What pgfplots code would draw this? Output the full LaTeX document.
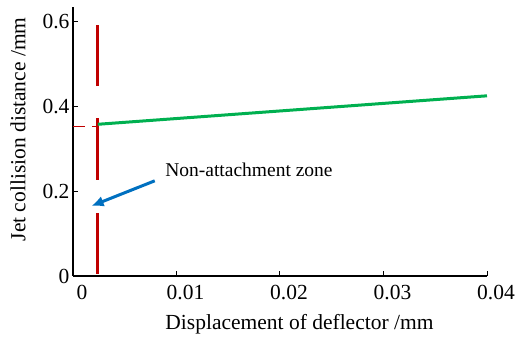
\documentclass[border=0pt]{standalone}
\usepackage{pgfplots}
\pgfplotsset{compat=1.18}
\usepackage{fontspec}
\setmainfont{Liberation Serif}
\usetikzlibrary{arrows.meta}
\definecolor{cred}{RGB}{192,0,0}
\definecolor{cgreen}{RGB}{0,176,80}
\definecolor{cblue}{RGB}{0,112,192}
\begin{document}
\begin{tikzpicture}
\begin{axis}[
  scale only axis,
  width=414pt, height=269pt,
  xmin=0, xmax=0.04, ymin=0, ymax=0.633,
  axis x line*=bottom, axis y line*=left,
  axis line style={line width=1.2pt},
  tick align=inside,
  major tick length=5pt,
  tick style={line width=1pt, black},
  scaled x ticks=false, scaled y ticks=false,
  /pgf/number format/assume math mode=true,
  xtick={0,0.01,0.02,0.03,0.04},
  xticklabels={0,0.01,0.02,0.03,0.04},
  ytick={0,0.2,0.4,0.6},
  yticklabels={0,0.2,0.4,0.6},
  tick label style={font=\fontsize{21.5}{24}\selectfont},
  xticklabel style={xshift=9pt, yshift=-6pt},
  xlabel={Displacement of deflector /mm},
  ylabel={Jet collision distance /mm},
  label style={font=\fontsize{21.5}{24}\selectfont},
  xlabel style={at={(axis description cs:0.547,-0.181)}, anchor=center},
  ylabel style={at={(axis description cs:-0.133,0.545)}, anchor=center},
  clip=false,
]
\addplot[cred, line width=3pt, forget plot] coordinates {(0.0024,0.005) (0.0024,0.148)};
\addplot[cred, line width=3pt, forget plot] coordinates {(0.0024,0.226) (0.0024,0.372)};
\addplot[cred, line width=3pt, forget plot] coordinates {(0.0024,0.447) (0.0024,0.59)};
\addplot[cred, line width=1.5pt, forget plot] coordinates {(0,0.352) (0.00116,0.352)};
\addplot[cred, line width=1.5pt, forget plot] coordinates {(0.00184,0.352) (0.0024,0.352)};
\addplot[cgreen, line width=3pt] coordinates {(0.0024,0.357) (0.04,0.424)};
\draw[cblue, line width=3pt, -{Latex[length=12pt,width=11pt]}] (axis cs:0.0079,0.224) -- (axis cs:0.0018,0.165);
\node[anchor=west, inner sep=0pt, font=\fontsize{19.5}{22}\selectfont] at (axis cs:0.0089,0.249) {Non-attachment zone};
\end{axis}
\path (current axis.south west) ++(-73pt,-63pt) rectangle ++(527pt,339pt);
\end{tikzpicture}
\end{document}
